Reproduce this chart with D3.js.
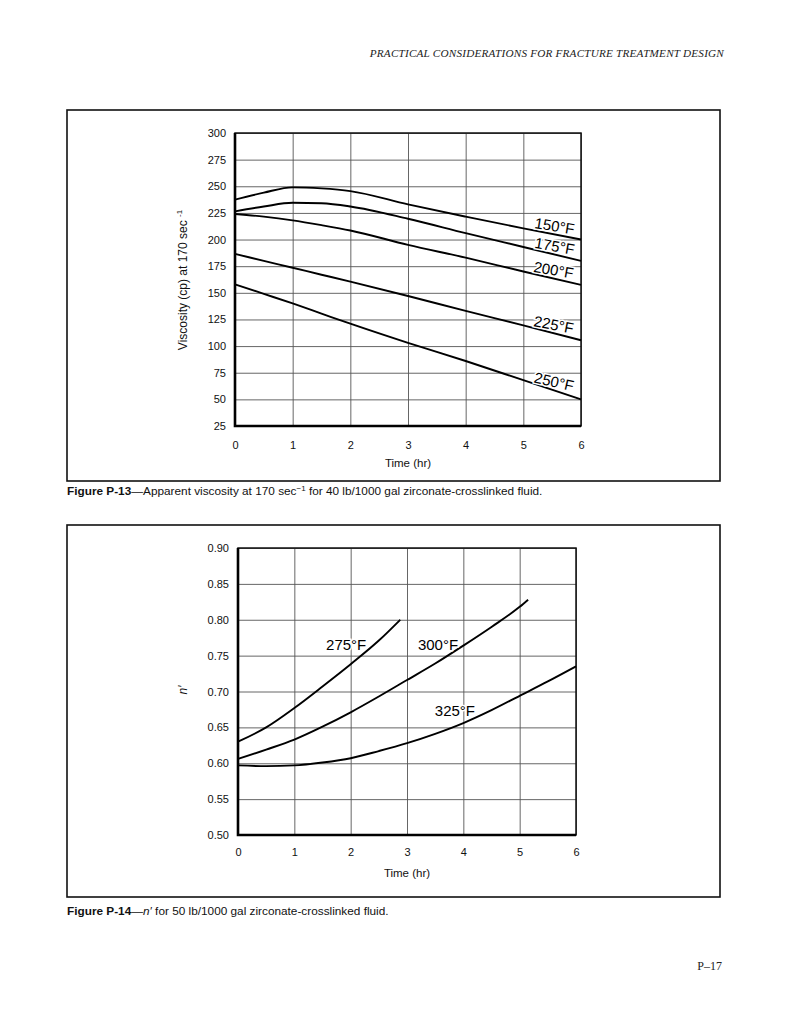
<!DOCTYPE html>
<html>
<head>
<meta charset="utf-8">
<script src="https://cdn.jsdelivr.net/npm/d3@7"></script>
<style>
  body { margin: 0; background: #fff; }
  svg { display: block; }
  .tick text { font-family: "Liberation Sans", Arial, sans-serif; font-size: 11px; fill: #111; }
</style>
</head>
<body>
<svg id="page" width="791" height="1024"></svg>
<script>
// ---- Figure P-13 data: apparent viscosity (cp) vs time (hr)
var times1 = [0, 0.5, 1, 1.5, 2, 3, 4, 5, 6];
var visc150 = [237.5, 244, 249, 248, 245.5, 233, 221.5, 210.5, 200];
var visc175 = [226.5, 231, 234.5, 234, 231, 219.5, 206, 193, 180];
var visc200 = [224, 221.5, 218, 213.5, 208.5, 195, 183, 170, 157.5];
var visc225 = [186.5, 180, 173.5, 167, 160.5, 147, 133, 119.5, 105.5];
var visc250 = [158, 149, 140, 130.5, 121, 103, 86, 68, 50];
var temps1 = ["150°F", "175°F", "200°F", "225°F", "250°F"];
var viscTicks = [25, 50, 75, 100, 125, 150, 175, 200, 225, 250, 275, 300];

// ---- Figure P-14 data: n' vs time (hr)
var times275 = [0, 0.5, 1, 1.5, 2, 2.5, 2.88];
var n275 = [0.630, 0.650, 0.677, 0.707, 0.738, 0.771, 0.800];
var times300 = [0, 0.5, 1, 1.5, 2, 2.5, 3, 3.5, 4, 4.5, 5, 5.15];
var n300 = [0.606, 0.619, 0.633, 0.651, 0.671, 0.693, 0.716, 0.739, 0.764, 0.790, 0.818, 0.828];
var times325 = [0, 0.5, 1, 1.5, 2, 2.5, 3, 3.5, 4, 4.5, 5, 5.5, 6];
var n325 = [0.597, 0.596, 0.597, 0.601, 0.607, 0.617, 0.628, 0.641, 0.656, 0.674, 0.694, 0.714, 0.735];
var temps2 = ["275°F", "300°F", "325°F"];
var nTicks = [0.50, 0.55, 0.60, 0.65, 0.70, 0.75, 0.80, 0.85, 0.90];

var timeTicks = [0, 1, 2, 3, 4, 5, 6];

// curve label anchors: chart 1 labels sit on their curve at time t (rotation deg),
// chart 2 labels are free-standing (time, n')
var labels1 = [[5.52, 9], [5.52, 10], [5.5, 10], [5.5, 11], [5.5, 13]];
var labels2 = [[1.92, 0.765], [3.55, 0.765], [3.85, 0.674]];

var sans = '"Liberation Sans", Arial, sans-serif';
var serif = '"Liberation Serif", "Times New Roman", serif';
var svg = d3.select("#page");

// page header + page number
svg.append("text").attr("x", 724).attr("y", 57).attr("text-anchor", "end")
  .attr("font-family", serif).attr("font-style", "italic").attr("font-size", 11.2)
  .attr("letter-spacing", 0.2).attr("fill", "#222")
  .text("PRACTICAL CONSIDERATIONS FOR FRACTURE TREATMENT DESIGN");
svg.append("text").attr("x", 722).attr("y", 970).attr("text-anchor", "end")
  .attr("font-family", serif).attr("font-size", 12).attr("fill", "#222").text("P–17");

function drawChart(cfg) {
  // outer frame
  svg.append("rect").attr("x", cfg.frame[0]).attr("y", cfg.frame[1])
    .attr("width", cfg.frame[2]).attr("height", cfg.frame[3])
    .attr("fill", "none").attr("stroke", "#111").attr("stroke-width", 1.6);

  var x = d3.scaleLinear().domain([0, 6]).range([cfg.left, cfg.right]);
  var y = d3.scaleLinear().domain(cfg.yDomain).range([cfg.bottom, cfg.top]);
  var w = cfg.right - cfg.left, h = cfg.bottom - cfg.top;
  var g = svg.append("g");

  // gridlines
  g.append("g").attr("transform", "translate(0," + cfg.bottom + ")")
    .call(d3.axisBottom(x).tickValues(timeTicks).tickSize(-h).tickFormat(""))
    .call(function(a) { a.select(".domain").remove(); a.selectAll("line").attr("stroke", "#555").attr("stroke-width", 0.9); });
  g.append("g").attr("transform", "translate(" + cfg.left + ",0)")
    .call(d3.axisLeft(y).tickValues(cfg.yTicks).tickSize(-w).tickFormat(""))
    .call(function(a) { a.select(".domain").remove(); a.selectAll("line").attr("stroke", "#555").attr("stroke-width", 0.9); });

  // tick labels
  g.append("g").attr("transform", "translate(0," + cfg.bottom + ")")
    .call(d3.axisBottom(x).tickValues(timeTicks).tickSize(0).tickPadding(cfg.xPad).tickFormat(d3.format("d")))
    .call(function(a) { a.select(".domain").remove(); });
  g.append("g").attr("transform", "translate(" + cfg.left + ",0)")
    .call(d3.axisLeft(y).tickValues(cfg.yTicks).tickSize(0).tickPadding(9).tickFormat(cfg.yFormat))
    .call(function(a) { a.select(".domain").remove(); });

  // plot border
  g.append("rect").attr("x", cfg.left).attr("y", cfg.top).attr("width", w).attr("height", h)
    .attr("fill", "none").attr("stroke", "#111").attr("stroke-width", 1.5);
  g.append("path").attr("d", "M" + cfg.left + "," + cfg.top + "V" + cfg.bottom + "H" + cfg.right)
    .attr("fill", "none").attr("stroke", "#000").attr("stroke-width", 2.6);

  // curves
  var line = d3.line().x(function(d) { return x(d[0]); }).y(function(d) { return y(d[1]); })
    .curve(d3.curveMonotoneX);
  cfg.series.forEach(function(s) {
    var pts = s.t.map(function(t, i) { return [t, s.v[i]]; });
    g.append("path").attr("d", line(pts)).attr("fill", "none")
      .attr("stroke", "#000").attr("stroke-width", 1.9);
  });

  // curve labels
  cfg.labels.forEach(function(l, i) {
    var px, py, rot = 0, dy = "0.36em";
    if (cfg.onCurve) {
      var s = cfg.series[i];
      var j = d3.bisectLeft(s.t, l[0]);
      var f = (l[0] - s.t[j - 1]) / (s.t[j] - s.t[j - 1]);
      px = x(l[0]);
      py = y(s.v[j - 1] + f * (s.v[j] - s.v[j - 1]));
      rot = l[1];
      dy = "-0.2em";
    } else {
      px = x(l[0]); py = y(l[1]);
    }
    g.append("text")
      .attr("transform", "translate(" + px + "," + py + ") rotate(" + rot + ")")
      .attr("text-anchor", "middle").attr("dy", dy)
      .attr("font-family", sans).attr("font-size", 15).attr("fill", "#000")
      .attr("stroke", "#fff").attr("stroke-width", 3).attr("paint-order", "stroke")
      .text(cfg.names[i]);
  });

  // axis titles
  g.append("text").attr("x", (cfg.left + cfg.right) / 2).attr("y", cfg.bottom + cfg.xTitleDy)
    .attr("text-anchor", "middle").attr("font-family", sans).attr("font-size", 11.5).attr("fill", "#111")
    .text("Time (hr)");
  return { g: g, x: x, y: y };
}

var c1 = drawChart({
  frame: [67, 110, 653, 371],
  left: 235, right: 581, top: 133, bottom: 426,
  yDomain: [25, 300], yTicks: viscTicks, yFormat: d3.format("d"),
  xPad: 15, xTitleDy: 41,
  series: [
    { t: times1, v: visc150 }, { t: times1, v: visc175 }, { t: times1, v: visc200 },
    { t: times1, v: visc225 }, { t: times1, v: visc250 }
  ],
  labels: labels1, names: temps1, onCurve: true
});
var yt1 = c1.g.append("text").attr("transform", "translate(187,280) rotate(-90)")
  .attr("text-anchor", "middle").attr("font-family", sans).attr("font-size", 12).attr("fill", "#111");
yt1.append("tspan").text("Viscosity (cp) at 170 sec ");
yt1.append("tspan").attr("font-size", 8).attr("dy", -5).text("-1");

var c2 = drawChart({
  frame: [67, 525, 653, 372],
  left: 238, right: 576, top: 548, bottom: 835,
  yDomain: [0.50, 0.90], yTicks: nTicks, yFormat: d3.format(".2f"),
  xPad: 13, xTitleDy: 42,
  series: [
    { t: times275, v: n275 }, { t: times300, v: n300 }, { t: times325, v: n325 }
  ],
  labels: labels2, names: temps2, onCurve: false
});
c2.g.append("text").attr("transform", "translate(187,690) rotate(-90)")
  .attr("text-anchor", "middle").attr("font-family", sans).attr("font-style", "italic")
  .attr("font-size", 12).attr("fill", "#111").text("n′");

// captions
var cap1 = svg.append("text").attr("x", 67).attr("y", 495)
  .attr("font-family", sans).attr("font-size", 11.8).attr("fill", "#111");
cap1.append("tspan").attr("font-weight", "bold").text("Figure P-13");
cap1.append("tspan").text("—Apparent viscosity at 170 sec");
cap1.append("tspan").attr("font-size", 8).attr("dy", -4).text("−1");
cap1.append("tspan").attr("dy", 4).text(" for 40 lb/1000 gal zirconate-crosslinked fluid.");

var cap2 = svg.append("text").attr("x", 67).attr("y", 915)
  .attr("font-family", sans).attr("font-size", 11.8).attr("fill", "#111");
cap2.append("tspan").attr("font-weight", "bold").text("Figure P-14");
cap2.append("tspan").text("—");
cap2.append("tspan").attr("font-style", "italic").text("n′");
cap2.append("tspan").text(" for 50 lb/1000 gal zirconate-crosslinked fluid.");
</script>
</body>
</html>
